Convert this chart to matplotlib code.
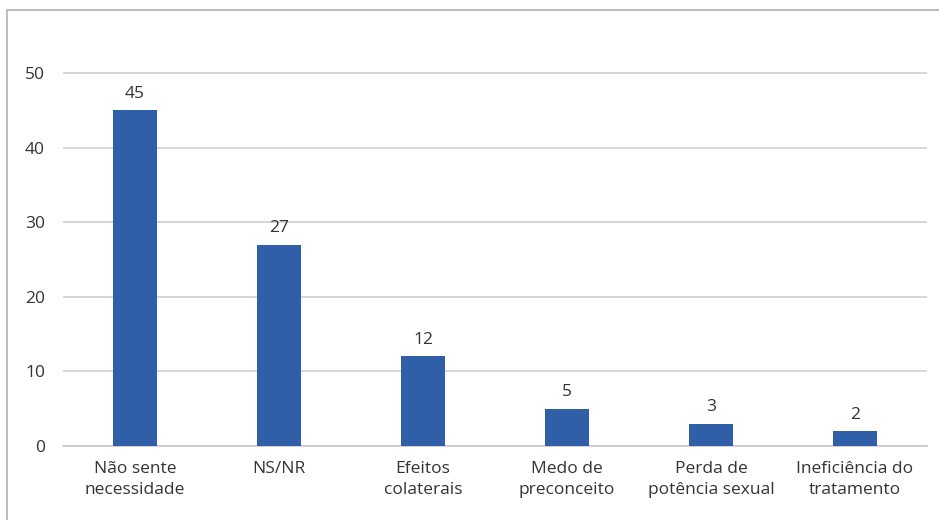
import matplotlib.pyplot as plt
from matplotlib.patches import Rectangle

categories = ["Não sente\nnecessidade", "NS/NR", "Efeitos\ncolaterais",
              "Medo de\npreconceito", "Perda de\npotência sexual",
              "Ineficiência do\ntratamento"]
values = [45, 27, 12, 5, 3, 2]

plt.rcParams['font.family'] = ['Open Sans', 'DejaVu Sans']
text_color = '#333333'
bar_color = '#2f5fa7'

fig = plt.figure(figsize=(9.39, 5.2), dpi=100)
ax = fig.add_axes([63 / 939, 1 - 446 / 520, 864 / 939, (446 - 73) / 520 / 50 * 52])

x = range(len(categories))
bars = ax.bar(x, values, width=0.31, color=bar_color, zorder=3)
for b, v in zip(bars, values):
    ax.annotate(str(v), (b.get_x() + b.get_width() / 2, v), xytext=(0, 6),
                textcoords='offset points', ha='center', va='bottom',
                fontsize=12.5, color=text_color)

ax.set_xlim(-0.5, len(categories) - 0.5)
ax.set_ylim(0, 52)
ax.set_yticks(range(0, 51, 10))
ax.set_xticks(list(x))
ax.set_xticklabels(categories, fontsize=12.5, color=text_color, linespacing=1.4)
ax.tick_params(axis='y', labelsize=12.5, labelcolor=text_color, length=0, pad=13)
ax.tick_params(axis='x', length=0, pad=11)
ax.grid(axis='y', color='#d0d0d0', linewidth=1.2, zorder=0)
for s in ['top', 'right', 'left']:
    ax.spines[s].set_visible(False)
ax.spines['bottom'].set_color('#c8c8c8')
ax.spines['bottom'].set_linewidth(1.2)

# outer chart border
fig.patches.append(Rectangle((7 / 939, -0.1), 1.2, 1 - 10 / 520 + 0.1,
                             transform=fig.transFigure, fill=False,
                             edgecolor='#b0b0b0', linewidth=1.2))

fig.savefig('out.png', dpi=100)
